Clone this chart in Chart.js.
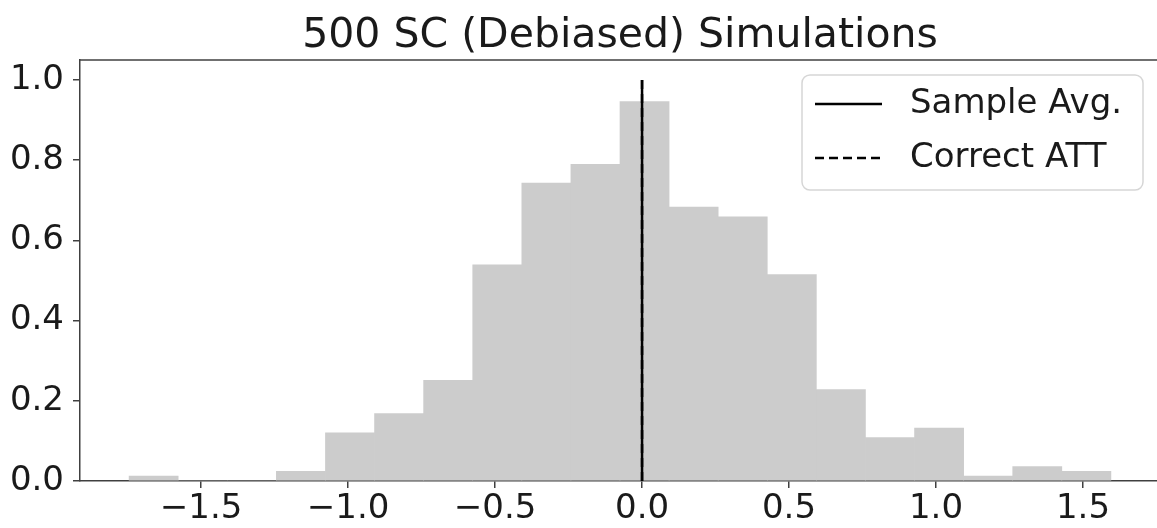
<!DOCTYPE html>
<html lang="en">
<head>
    <meta charset="UTF-8">
    <title>500 SC (Debiased) Simulations</title>
    <script src="https://cdn.jsdelivr.net/npm/chart.js"></script>
    <style>
        html, body {
            margin: 0;
            padding: 0;
            background: #ffffff;
            overflow: hidden;
        }
        #histChart {
            display: block;
        }
    </style>
</head>
<body>

<canvas id="histChart" width="1165" height="528"></canvas>

<script>
    // histogram bin edges (20 bins) and density height of each bin
    const binEdges = [-1.745, -1.578, -1.411, -1.244, -1.077, -0.910, -0.743, -0.576, -0.409, -0.242,
                      -0.075, 0.092, 0.259, 0.426, 0.593, 0.760, 0.927, 1.094, 1.261, 1.428, 1.595];
    const density = [0.012, 0, 0, 0.024, 0.120, 0.168, 0.251, 0.539, 0.743, 0.790,
                     0.946, 0.683, 0.659, 0.515, 0.228, 0.108, 0.132, 0.012, 0.036, 0.024];

    // vertical reference lines
    const sampleAvg = 0.0;
    const correctATT = 0.0;
    const vlineSpan = [0, 1];

    const xTicks = [-1.5, -1.0, -0.5, 0.0, 0.5, 1.0, 1.5];
    const yTicks = [0.0, 0.2, 0.4, 0.6, 0.8, 1.0];
    const xRange = [-1.912, 1.762];
    const yRange = [0, 1.05];

    const titleText = '500 SC (Debiased) Simulations';
    const fontFamily = "'DejaVu Sans', sans-serif";
    const axisColor = '#404040';

    const fmt = v => (v < 0 ? '\u2212' : '') + Math.abs(v).toFixed(1);

    const barData = density.map((d, i) => ({ x: (binEdges[i] + binEdges[i + 1]) / 2, y: d }));

    // title centred over the axes, top spine, legend box inside the axes
    const frameAndLegend = {
        id: 'frameAndLegend',
        afterDraw(chart) {
            const ctx = chart.ctx;
            const area = chart.chartArea;
            ctx.save();

            ctx.fillStyle = '#1a1a1a';
            ctx.font = '41px ' + fontFamily;
            ctx.textAlign = 'center';
            ctx.textBaseline = 'middle';
            ctx.fillText(titleText, (area.left + area.right) / 2, 36);

            ctx.strokeStyle = axisColor;
            ctx.lineWidth = 1.5;
            ctx.beginPath();
            ctx.moveTo(area.left, area.top);
            ctx.lineTo(area.right, area.top);
            ctx.stroke();

            const bx = 802, by = 75, bw = 341, bh = 115;
            ctx.fillStyle = 'rgba(255,255,255,0.8)';
            ctx.strokeStyle = '#d6d6d6';
            ctx.lineWidth = 1.5;
            ctx.beginPath();
            ctx.roundRect(bx, by, bw, bh, 8);
            ctx.fill();
            ctx.stroke();

            ctx.textAlign = 'left';
            const items = chart.data.datasets.filter(ds => ds.type === 'line');
            items.forEach((ds, i) => {
                const y = 104 + i * 54;
                ctx.strokeStyle = ds.borderColor;
                ctx.lineWidth = ds.borderWidth;
                ctx.setLineDash(ds.borderDash || []);
                ctx.beginPath();
                ctx.moveTo(815, y);
                ctx.lineTo(882, y);
                ctx.stroke();
                ctx.setLineDash([]);
                ctx.fillStyle = '#1a1a1a';
                ctx.font = '34px ' + fontFamily;
                ctx.fillText(ds.label, 910, y);
            });
            ctx.restore();
        }
    };

    new Chart(document.getElementById('histChart'), {
        data: {
            datasets: [
                {
                    type: 'line',
                    label: 'Sample Avg.',
                    data: vlineSpan.map(y => ({ x: sampleAvg, y: y })),
                    borderColor: '#000000',
                    borderWidth: 2.5,
                    pointRadius: 0,
                    order: 0
                },
                {
                    type: 'line',
                    label: 'Correct ATT',
                    data: vlineSpan.map(y => ({ x: correctATT, y: y })),
                    borderColor: '#000000',
                    borderWidth: 2.5,
                    borderDash: [9, 5],
                    pointRadius: 0,
                    order: 1
                },
                {
                    type: 'bar',
                    label: 'Simulations',
                    data: barData,
                    backgroundColor: '#cccccc',
                    borderWidth: 0,
                    barPercentage: 1.0,
                    categoryPercentage: 1.0,
                    order: 2
                }
            ]
        },
        options: {
            responsive: false,
            animation: false,
            devicePixelRatio: 1,
            layout: { padding: { left: 0, right: 5, top: 60, bottom: 0 } },
            plugins: {
                legend: { display: false },
                tooltip: { enabled: false },
                title: { display: false }
            },
            scales: {
                x: {
                    type: 'linear',
                    offset: false,
                    min: xRange[0],
                    max: xRange[1],
                    afterBuildTicks: scale => { scale.ticks = xTicks.map(v => ({ value: v })); },
                    afterFit: scale => { scale.height = 47; },
                    grid: { display: true, offset: false, drawOnChartArea: false, drawTicks: true, tickLength: 7, color: axisColor, lineWidth: 1.5 },
                    border: { display: true, color: axisColor, width: 1.5 },
                    ticks: {
                        color: '#1a1a1a',
                        font: { family: fontFamily, size: 34 },
                        padding: 1,
                        maxRotation: 0,
                        autoSkip: false,
                        callback: v => fmt(v)
                    }
                },
                y: {
                    type: 'linear',
                    min: yRange[0],
                    max: yRange[1],
                    afterBuildTicks: scale => { scale.ticks = yTicks.map(v => ({ value: v })); },
                    afterFit: scale => { scale.width = 80; },
                    grid: { display: true, drawOnChartArea: false, drawTicks: true, tickLength: 7, color: axisColor, lineWidth: 1.5 },
                    border: { display: true, color: axisColor, width: 1.5 },
                    ticks: {
                        color: '#1a1a1a',
                        font: { family: fontFamily, size: 34 },
                        padding: 9,
                        autoSkip: false,
                        callback: v => fmt(v)
                    }
                }
            }
        },
        plugins: [frameAndLegend]
    });
</script>

</body>
</html>
